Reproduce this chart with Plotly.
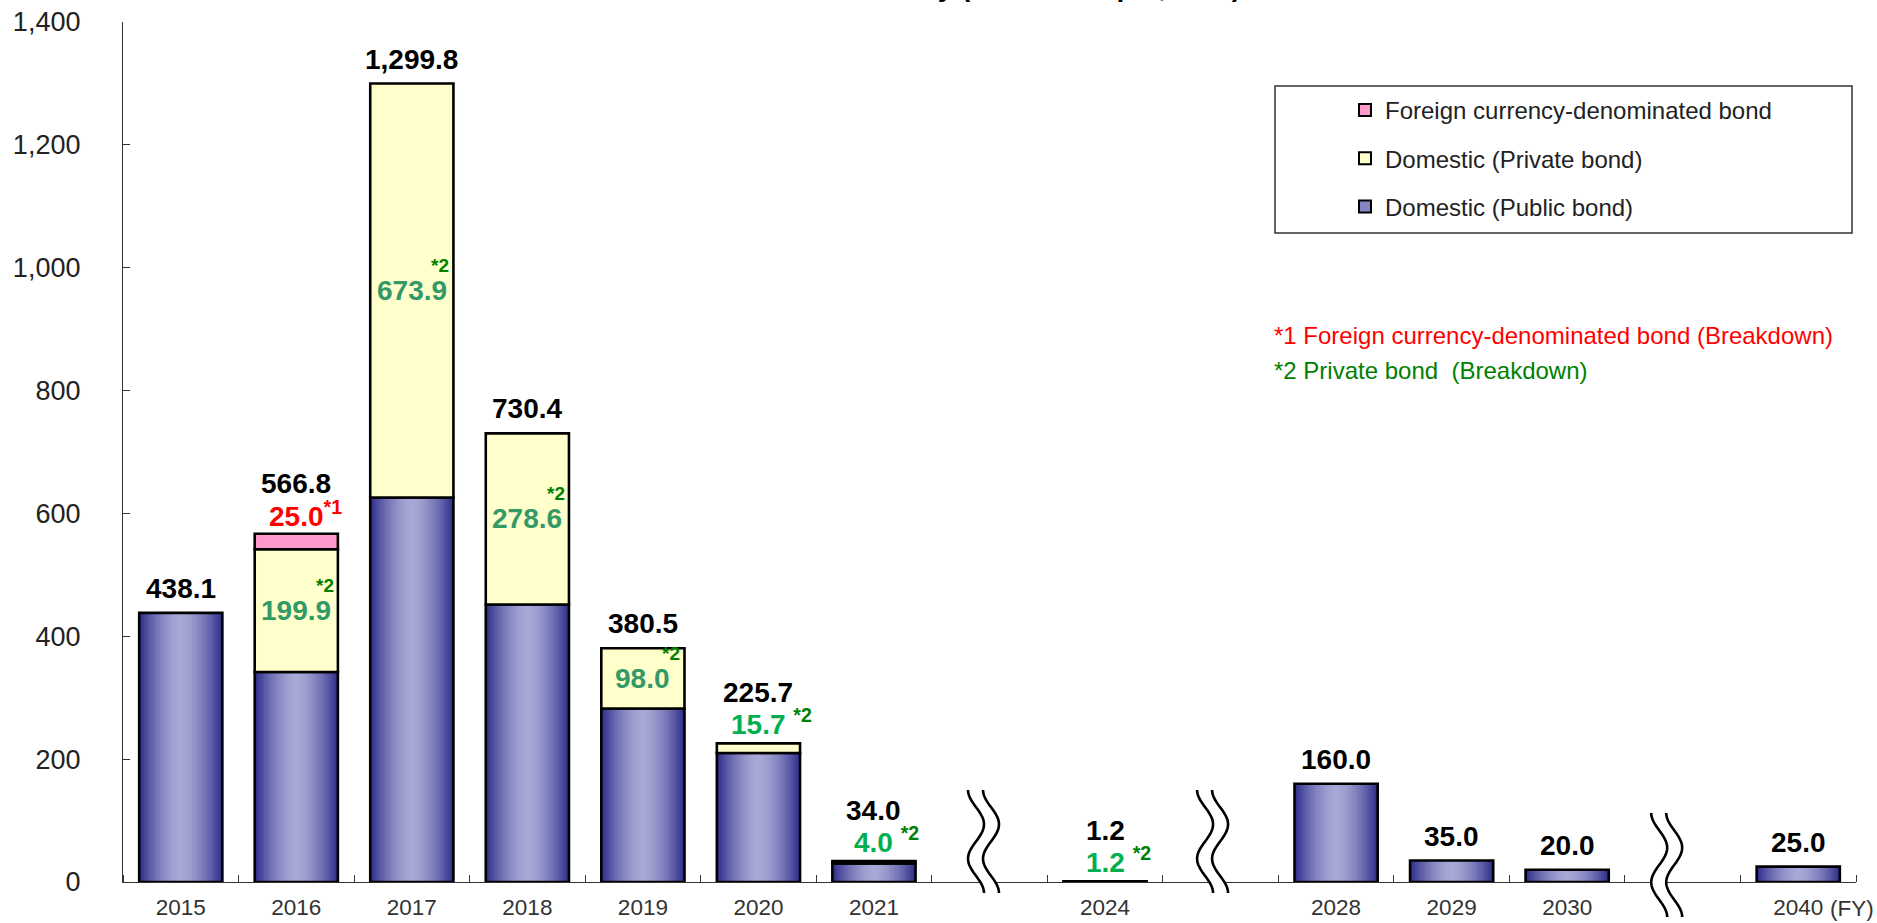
import math
import plotly.graph_objects as go

# ---------------- data ----------------
YEARS = ["2015", "2016", "2017", "2018", "2019", "2020", "2021", "2024", "2028", "2029", "2030", "2040"]
PUBLIC = [438.1, 341.9, 625.9, 451.8, 282.5, 210.0, 30.0, None, 160.0, 35.0, 20.0, 25.0]
PRIVATE = [None, 199.9, 673.9, 278.6, 98.0, 15.7, 4.0, 1.2, None, None, None, None]
FOREIGN = [None, 25.0, None, None, None, None, None, None, None, None, None, None]
PRIVATE_LABEL_INSIDE = [False, True, True, True, True, False, False, False, False, False, False, False]
AXIS_SLOTS = ["2015", "2016", "2017", "2018", "2019", "2020", "2021", "~",
              "2024", "~", "2028", "2029", "2030", "~", "2040"]
SERIES = ["Foreign currency-denominated bond", "Domestic (Private bond)", "Domestic (Public bond)"]
NOTE1 = "*1 Foreign currency-denominated bond (Breakdown)"
NOTE2 = "*2 Private bond\u00a0 (Breakdown)"
TITLE = "Bond Maturity (Amount at par, \u00a5 bn)"

# ---------------- style ----------------
FONT = "Arial, 'Liberation Sans', sans-serif"
BAR_W = 0.72
PUB_DARK = (44, 44, 138)
PUB_LIGHT = (168, 168, 214)
PRIV_COL = "#FFFFCC"
FOR_COL = "#FF99CC"
GREEN_IN = "#339966"
GREEN_OUT = "#00B050"
GREEN_NOTE = "#008000"
AX_COL = "#333333"

L, R, T, B = 123, 21, 22, 41
W, H = 1877, 923
PW, PH = W - L - R, H - T - B

X = [AXIS_SLOTS.index(y) for y in YEARS]
XMIN, XMAX = -0.5, len(AXIS_SLOTS) - 0.5
val = lambda v: 0.0 if v is None else v
PRIV_BASE = [val(v) for v in PUBLIC]
FOR_BASE = [val(a) + val(b) for a, b in zip(PUBLIC, PRIVATE)]
TOTAL = [val(a) + val(b) + val(c) for a, b, c in zip(PUBLIC, PRIVATE, FOREIGN)]


def lerp(c1, c2, t):
    return "rgb(%d,%d,%d)" % tuple(round(a + (b - a) * t) for a, b in zip(c1, c2))


def px_x(px):
    return (px - L) / PW


def px_y(py):
    return (H - B - py) / PH


fig = go.Figure()

# gradient public bars (layered overlay)
N = 18
for k in range(N):
    w = BAR_W * (1 - k / N)
    d = 1 - (k + 0.5) / N
    col = lerp(PUB_LIGHT, PUB_DARK, d ** 1.6)
    fig.add_trace(go.Bar(x=X, y=PUBLIC, base=0, width=w, marker=dict(color=col, line=dict(width=0)),
                         showlegend=False, hoverinfo="skip"))

# outlines / stacked segments
fig.add_trace(go.Bar(x=X, y=PUBLIC, base=0, width=BAR_W,
                     marker=dict(color="rgba(0,0,0,0)", line=dict(color="black", width=2.6)),
                     showlegend=False, name=SERIES[2]))
fig.add_trace(go.Bar(x=X, y=PRIVATE, base=PRIV_BASE, width=BAR_W,
                     marker=dict(color=PRIV_COL, line=dict(color="black", width=2.6)),
                     showlegend=False, name=SERIES[1]))
fig.add_trace(go.Bar(x=X, y=FOREIGN, base=FOR_BASE, width=BAR_W,
                     marker=dict(color=FOR_COL, line=dict(color="black", width=2.6)),
                     showlegend=False, name=SERIES[0]))

# legend entries
for name, col in zip(SERIES, [FOR_COL, PRIV_COL, "#8686C4"]):
    fig.add_trace(go.Bar(x=[None], y=[None], name=name, legendgroup=name,
                         marker=dict(color=col, line=dict(color="black", width=2))))

ann = []
for i, x in enumerate(X):
    has_sub = (FOREIGN[i] is not None) or (PRIVATE[i] is not None and not PRIVATE_LABEL_INSIDE[i])
    ann.append(dict(x=x, y=TOTAL[i], xref="x", yref="y", text=f"{TOTAL[i]:,.1f}", showarrow=False,
                    yanchor="bottom", yshift=33 if has_sub else 7,
                    font=dict(family=FONT, size=28, color="black", weight="bold")))
    if FOREIGN[i] is not None:
        ann.append(dict(x=x, y=TOTAL[i], xref="x", yref="y", text=f"{FOREIGN[i]:.1f}<sup>*1</sup>",
                        showarrow=False, yanchor="bottom", yshift=0, xshift=9,
                        font=dict(family=FONT, size=28, color="#FF0000", weight="bold")))
    if PRIVATE[i] is not None:
        if PRIVATE_LABEL_INSIDE[i]:
            ymid = PRIV_BASE[i] + PRIVATE[i] / 2
            ann.append(dict(x=x, y=ymid, xref="x", yref="y", text=f"{PRIVATE[i]:.1f}", showarrow=False,
                            yanchor="middle", font=dict(family=FONT, size=28, color=GREEN_IN, weight="bold")))
            ann.append(dict(x=x + BAR_W / 2, y=ymid, xref="x", yref="y", text="*2", showarrow=False,
                            xanchor="right", xshift=-2, yanchor="middle", yshift=25,
                            font=dict(family=FONT, size=19, color=GREEN_NOTE, weight="bold")))
        else:
            ann.append(dict(x=x, y=TOTAL[i], xref="x", yref="y",
                            text=f"{PRIVATE[i]:.1f} <sup><span style='color:{GREEN_NOTE}'>*2</span></sup>",
                            showarrow=False, yanchor="bottom", yshift=1, xshift=13,
                            font=dict(family=FONT, size=28, color=GREEN_OUT, weight="bold")))

# (FY) unit
ann.append(dict(x=X[-1], y=0, xref="x", yref="paper", text="(FY)", showarrow=False,
                xanchor="left", xshift=30, yanchor="top", yshift=-12,
                font=dict(family=FONT, size=22.5, color=AX_COL)))
# footnotes
ann.append(dict(x=px_x(1272), y=px_y(336), xref="paper", yref="paper", text=NOTE1,
                showarrow=False, xanchor="left", yanchor="middle", font=dict(family=FONT, size=24, color="#FF0000")))
ann.append(dict(x=px_x(1272), y=px_y(370), xref="paper", yref="paper", text=NOTE2,
                showarrow=False, xanchor="left", yanchor="middle", font=dict(family=FONT, size=24, color=GREEN_NOTE)))
# title (clipped at the top edge, as in the source image)
ann.append(dict(x=0.5, y=1, xref="paper", yref="paper", text=TITLE, showarrow=False, xshift=13,
                yanchor="bottom", yshift=18, font=dict(family=FONT, size=28, color="black", weight="bold")))

# break marks (decorative) in paper coordinates
shapes = []
BREAK_SLOTS = [k for k, s in enumerate(AXIS_SLOTS) if s == "~"]
BREAK_OFF = [-6, -8, -16]
BREAK_Y = [(790, 893), (790, 893), (813, 917)]
for slot, offpx, (ytop, ybot) in zip(BREAK_SLOTS, BREAK_OFF, BREAK_Y):
    cx = L + (slot - XMIN) / (XMAX - XMIN) * PW + offpx
    curves = []
    for dx in (-7.5, 7.5):
        pts = []
        n = 40
        for j in range(n + 1):
            t = j / n
            px = cx + dx - 8 * math.cos(3 * math.pi * t)
            py = ytop + (ybot - ytop) * t
            pts.append((px_x(px), px_y(py)))
        curves.append(pts)
    fillpts = curves[0] + curves[1][::-1]
    fillpath = "M " + " L ".join(f"{a:.5f},{b:.5f}" for a, b in fillpts) + " Z"
    shapes.append(dict(type="path", path=fillpath, xref="paper", yref="paper",
                       fillcolor="white", line=dict(width=0), layer="above"))
    for pts in curves:
        p = "M " + " L ".join(f"{a:.5f},{b:.5f}" for a, b in pts)
        shapes.append(dict(type="path", path=p, xref="paper", yref="paper",
                           line=dict(color="black", width=2.6), layer="above"))

# legend frame
shapes.append(dict(type="rect", xref="paper", yref="paper",
                   x0=px_x(1275), x1=px_x(1852), y0=px_y(233), y1=px_y(86),
                   line=dict(color="#333333", width=1.5), fillcolor="rgba(0,0,0,0)", layer="above"))

fig.update_layout(
    width=W, height=H, autosize=False,
    margin=dict(l=L, r=R, t=T, b=B, pad=0),
    paper_bgcolor="white", plot_bgcolor="white",
    barmode="overlay",
    font=dict(family=FONT, color=AX_COL),
    showlegend=True,
    legend=dict(x=px_x(1345), y=px_y(88), xanchor="left", yanchor="top",
                bgcolor="rgba(0,0,0,0)", borderwidth=0, traceorder="grouped", tracegroupgap=14,
                font=dict(family=FONT, size=24, color="#222222")),
    xaxis=dict(range=[XMIN, XMAX], tickmode="array", tickvals=X, ticktext=YEARS, ticks="",
               automargin=False,
               showline=True, linecolor=AX_COL, linewidth=1.3, showgrid=False, zeroline=False,
               tickfont=dict(family=FONT, size=22.5, color=AX_COL), ticklabelstandoff=5,
               minor=dict(tickmode="array", tickvals=[k - 0.5 for k in range(len(AXIS_SLOTS) + 1)],
                          ticks="inside", ticklen=7, tickcolor=AX_COL, tickwidth=1.3, showgrid=False)),
    yaxis=dict(range=[0, 1400], tick0=0, dtick=200, tickformat=",", ticks="inside", ticklen=7,
               automargin=False,
               tickcolor=AX_COL, tickwidth=1.3, showline=True, linecolor=AX_COL, linewidth=1.3,
               showgrid=False, zeroline=False, ticklabelstandoff=36,
               tickfont=dict(family=FONT, size=27, color="#222222")),
    annotations=ann,
    shapes=shapes,
)

fig.write_html("out.html")
